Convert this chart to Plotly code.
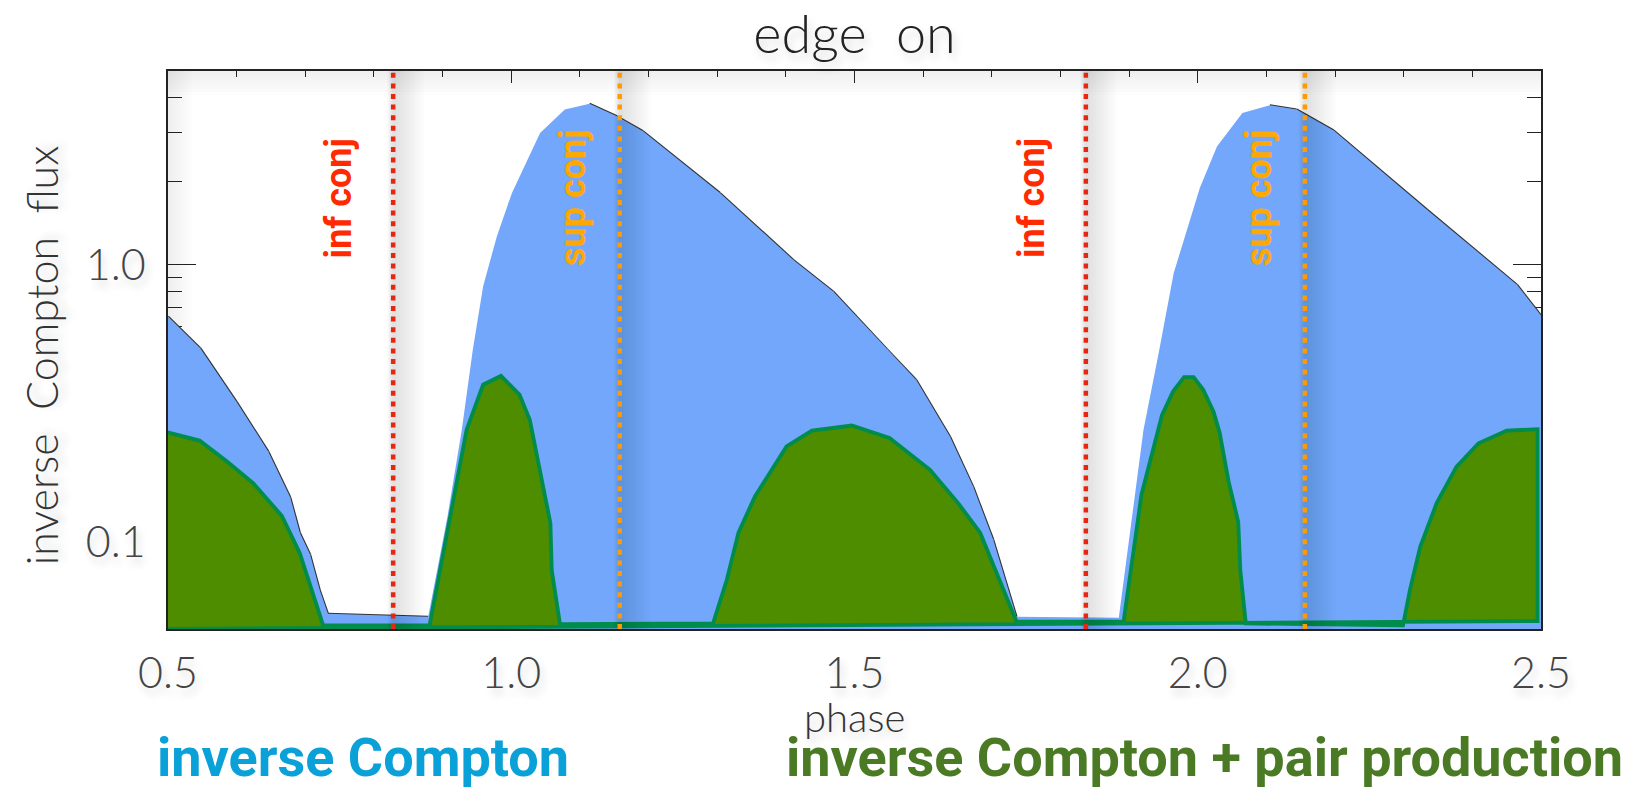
import math
import plotly.graph_objects as go

# ---- data -------------------------------------------------------------
# inverse Compton flux vs orbital phase
PHASE_IC = [0.500, 0.547, 0.600, 0.646, 0.678, 0.692, 0.707, 0.721, 0.733,
            0.879, 0.907, 0.928, 0.944, 0.959, 0.979, 1.001, 1.042, 1.078,
            1.114, 1.154, 1.192, 1.304, 1.411, 1.469, 1.548, 1.590, 1.639,
            1.673, 1.702, 1.736,
            1.885, 1.921, 1.944, 1.965, 2.003, 2.028, 2.065, 2.105, 2.144,
            2.198, 2.334, 2.465, 2.503]
FLUX_IC = [0.650, 0.500, 0.320, 0.212, 0.145, 0.108, 0.090, 0.067, 0.055,
           0.0537, 0.123, 0.254, 0.493, 0.835, 1.265, 1.815, 2.99, 3.63,
           3.81, 3.43, 3.03, 1.815, 1.04, 0.80, 0.493, 0.384, 0.240,
           0.158, 0.102, 0.0537,
           0.0533, 0.254, 0.493, 0.933, 1.89, 2.67, 3.53, 3.76, 3.63,
           3.05, 1.58, 0.847, 0.642]

# inverse Compton + pair production flux vs orbital phase
PHASE_ICPP = [0.495, 0.546, 0.586, 0.624, 0.666, 0.692, 0.726,
              0.881, 0.935, 0.959, 0.985, 1.012, 1.027, 1.057, 1.059, 1.071,
              1.294, 1.314, 1.331, 1.355, 1.401, 1.438, 1.496, 1.551, 1.610,
              1.651, 1.683, 1.736,
              1.892, 1.918, 1.948, 1.964, 1.980, 1.994, 2.008, 2.023, 2.032,
              2.045, 2.059, 2.062, 2.070,
              2.299, 2.309, 2.324, 2.348, 2.377, 2.409, 2.450, 2.495]
FLUX_ICPP = [0.250, 0.232, 0.195, 0.163, 0.124, 0.091, 0.050,
             0.050, 0.254, 0.369, 0.397, 0.340, 0.276, 0.117, 0.079, 0.0505,
             0.0508, 0.073, 0.108, 0.146, 0.221, 0.252, 0.263, 0.237, 0.182,
             0.138, 0.108, 0.0516,
             0.0516, 0.148, 0.287, 0.349, 0.393, 0.393, 0.354, 0.295, 0.247,
             0.165, 0.118, 0.079, 0.0508,
             0.0500, 0.067, 0.096, 0.138, 0.187, 0.227, 0.252, 0.255]

FLUX_FLOOR = 0.0485            # base of the filled areas
ICPP_BASE = [0.0485, 0.0518]   # base of the pair-production area (left, right)

INF_CONJ = [0.828, 1.837]
SUP_CONJ = [1.158, 2.156]

X_RANGE = [0.5, 2.5]
Y_RANGE = [0.0485, 5.0]
X_TICKS = [0.5, 1.0, 1.5, 2.0, 2.5]

# ---- styling ----------------------------------------------------------
BLUE = "#72A7FB"
GREEN_FILL = "#4E8C00"
GREEN_LINE = "#008C4B"
RED = "#E8260F"
ORANGE = "#FF9A00"
THIN = "Lato"
BOLD = "Roboto"
SHADOW = "3px 6px 8px rgba(0,0,0,0.18)"

fig = go.Figure()

# thin dark outline along the falling flanks of the IC curve
edge_x, edge_y = [], []
for i in range(len(FLUX_IC) - 1):
    if FLUX_IC[i + 1] < 0.98 * FLUX_IC[i]:
        edge_x += [PHASE_IC[i], PHASE_IC[i + 1], None]
        edge_y += [FLUX_IC[i], FLUX_IC[i + 1], None]
fig.add_trace(go.Scatter(x=edge_x, y=edge_y, mode="lines",
                         line=dict(color="#333333", width=2.2),
                         hoverinfo="skip", showlegend=False))

# inverse Compton area
fig.add_trace(go.Scatter(
    x=[PHASE_IC[0]] + PHASE_IC + [PHASE_IC[-1], PHASE_IC[0]],
    y=[FLUX_FLOOR] + FLUX_IC + [FLUX_FLOOR, FLUX_FLOOR],
    mode="lines", fill="toself", fillcolor=BLUE,
    line=dict(width=0, color=BLUE), name="inverse Compton", showlegend=False))

# inverse Compton + pair production area with outline
fig.add_trace(go.Scatter(
    x=[PHASE_ICPP[0]] + PHASE_ICPP + [PHASE_ICPP[-1], PHASE_ICPP[0]],
    y=[ICPP_BASE[0]] + FLUX_ICPP + [ICPP_BASE[1], ICPP_BASE[0]],
    mode="lines", fill="toself", fillcolor=GREEN_FILL,
    line=dict(width=3.8, color=GREEN_LINE, shape="linear"),
    name="inverse Compton + pair production", showlegend=False))

# soft inner shadow along the top and left of the frame
for k in range(3, 25, 3):
    fig.add_shape(type="rect", xref="paper", yref="paper", x0=0, x1=1,
                  ysizemode="pixel", yanchor=1, y0=0, y1=-k,
                  fillcolor="rgba(0,0,0,0.008)", line_width=0, layer="below")
    fig.add_shape(type="rect", xref="paper", yref="paper", y0=0, y1=1,
                  xsizemode="pixel", xanchor=0, x0=0, x1=k,
                  fillcolor="rgba(0,0,0,0.008)", line_width=0, layer="below")

# conjunction markers with a soft shadow
for xs, col in [(INF_CONJ, RED), (SUP_CONJ, ORANGE)]:
    for xv in xs:
        for w in range(4, 34, 3):
            fig.add_shape(type="rect", xref="x", yref="paper",
                          xsizemode="pixel", xanchor=xv, x0=-w / 5, x1=w,
                          y0=0, y1=1, fillcolor="rgba(0,0,0,0.012)",
                          line_width=0, layer="above")
        fig.add_shape(type="line", xref="x", yref="paper", x0=xv, x1=xv,
                      y0=0, y1=1, layer="above",
                      line=dict(color=col, width=4.5, dash="5px,5.6px"))

# conjunction labels
for xv in INF_CONJ:
    fig.add_annotation(x=xv, xref="x", xshift=-54, y=0.772, yref="paper",
                       xanchor="center", yanchor="middle",
                       text="inf conj", textangle=-90, showarrow=False,
                       font=dict(family=BOLD, size=36, color="#FF2A00",
                                 weight=700))
for xv in SUP_CONJ:
    fig.add_annotation(x=xv, xref="x", xshift=-46, y=0.772, yref="paper",
                       xanchor="center", yanchor="middle",
                       text="sup conj", textangle=-90, showarrow=False,
                       font=dict(family=BOLD, size=36, color="#FFA800",
                                 weight=700))

# axis titles
fig.add_annotation(x=-0.092, xref="paper", xanchor="center",
                   y=0.49, yref="paper", yanchor="middle",
                   text="inverse  Compton  flux", textangle=-90, showarrow=False,
                   font=dict(family=THIN, size=43, color="#333333", weight=300,
                             shadow=SHADOW))
fig.add_annotation(x=0.5, xref="paper", xanchor="center",
                   y=-0.157, yref="paper", yanchor="middle",
                   text="phase", showarrow=False,
                   font=dict(family=THIN, size=40, color="#333333", weight=300,
                             shadow=SHADOW))

# series captions below the plot
fig.add_annotation(x=-0.0095, xref="paper", xanchor="left", y=-0.231,
                   yref="paper", yanchor="middle",
                   text="inverse Compton", showarrow=False,
                   font=dict(family=BOLD, size=54, color="#0AA0D8",
                             weight=700))
fig.add_annotation(x=0.4487, xref="paper", xanchor="left", y=-0.231,
                   yref="paper", yanchor="middle",
                   text="inverse Compton + pair production",
                   showarrow=False,
                   font=dict(family=BOLD, size=54, color="#4A7A23",
                             weight=700))

axis_common = dict(showgrid=False, zeroline=False, showline=True,
                   linecolor="#222222", linewidth=1.5, mirror="allticks",
                   ticks="inside", tickcolor="#222222", tickwidth=1.3,
                   layer="below traces")

fig.update_xaxes(range=X_RANGE, tickvals=X_TICKS,
                 ticktext=[f"{v:.1f}" for v in X_TICKS],
                 ticklen=12, ticklabelstandoff=6,
                 minor=dict(dtick=0.1, ticks="inside", ticklen=6,
                            tickcolor="#222222", tickwidth=1.2),
                 tickfont=dict(family=THIN, size=43, color="#444444",
                               weight=300, shadow=SHADOW),
                 **axis_common)
fig.update_yaxes(type="log",
                 range=[math.log10(Y_RANGE[0]), math.log10(Y_RANGE[1])],
                 dtick=1, tickformat=".1f", ticklen=28, ticklabelstandoff=12,
                 minor=dict(dtick="D1", ticks="inside", ticklen=14,
                            tickcolor="#222222", tickwidth=1.2),
                 tickfont=dict(family=THIN, size=43, color="#444444",
                               weight=300, shadow=SHADOW),
                 **axis_common)

fig.update_layout(
    width=1644, height=792,
    margin=dict(l=168, r=103, t=71, b=163),
    paper_bgcolor="white", plot_bgcolor="white",
    showlegend=False,
    title=dict(text="edge  on", x=0.5, xref="paper", xanchor="center",
               y=1 - 34 / 792, yref="container", yanchor="middle",
               font=dict(family=THIN, size=54, color="#222222", weight=300,
                         shadow=SHADOW)),
)

fig.write_html("out.html")
